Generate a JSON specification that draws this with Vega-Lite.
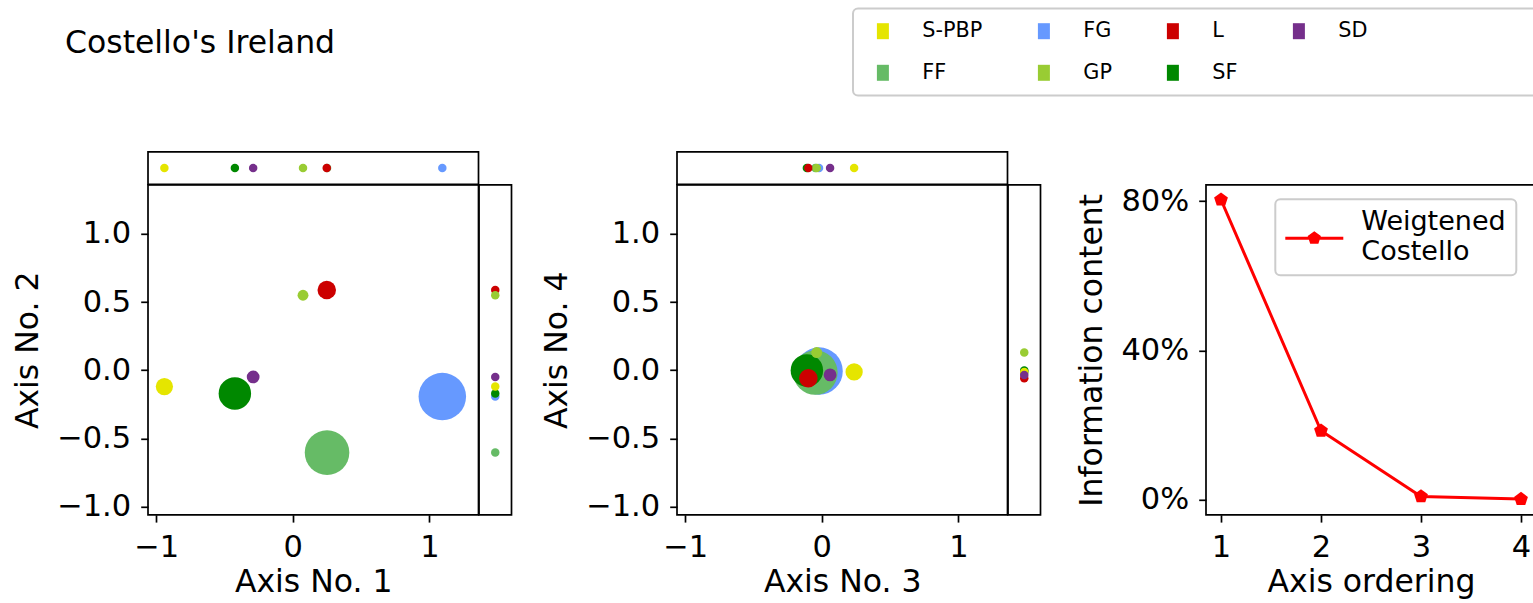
{
  "$schema": "https://vega.github.io/schema/vega-lite/v6.json",
  "padding": {"left": 11, "top": 5.8, "right": 0, "bottom": 0},
  "background": "white",
  "datasets": {
    "parties": [
      {"party": "FG", "dim1": 1.095, "dim2": -0.193, "dim3": -0.02, "dim4": -0.006, "weight": 50},
      {"party": "FF", "dim1": 0.251, "dim2": -0.604, "dim3": -0.047, "dim4": -0.017, "weight": 44},
      {"party": "SF", "dim1": -0.424, "dim2": -0.171, "dim3": -0.109, "dim4": -0.002, "weight": 23},
      {"party": "L", "dim1": 0.249, "dim2": 0.589, "dim3": -0.098, "dim4": -0.059, "weight": 7},
      {"party": "S-PBP", "dim1": -0.94, "dim2": -0.12, "dim3": 0.237, "dim4": -0.012, "weight": 6},
      {"party": "SD", "dim1": -0.29, "dim2": -0.049, "dim3": 0.061, "dim4": -0.034, "weight": 3},
      {"party": "GP", "dim1": 0.075, "dim2": 0.55, "dim3": -0.037, "dim4": 0.13, "weight": 2}
    ],
    "info": [
      {"ordering": 1, "info": 80.4, "series": "Weigtened Costello"},
      {"ordering": 2, "info": 18.5, "series": "Weigtened Costello"},
      {"ordering": 3, "info": 0.9, "series": "Weigtened Costello"},
      {"ordering": 4, "info": 0.2, "series": "Weigtened Costello"}
    ],
    "blank": [{"b": 0}]
  },
  "columns": 7,
  "spacing": 0,
  "bounds": "flush",
  "align": "each",
  "resolve": {"scale": {"color": "independent"}, "legend": {"color": "independent"}},
  "concat": [
    {
      "width": 330.5, "height": 32.6,
      "data": {"name": "parties"},
      "title": {"text": "Costello's Ireland", "anchor": "start", "frame": "group", "orient": "top", "offset": 66.8, "dx": -83, "baseline": "alphabetic", "fontSize": 31.5, "fontWeight": "normal", "font": "DejaVu Sans", "color": "black"},
      "mark": {"type": "circle", "opacity": 1, "size": 72},
      "encoding": {
        "x": {"field": "dim1", "type": "quantitative", "scale": {"domain": [-1.06, 1.36], "nice": false, "zero": false}, "axis": null},
        "color": {"field": "party", "type": "nominal", "scale": {"domain": ["S-PBP", "FG", "L", "SD", "FF", "GP", "SF"], "range": ["#e5e500", "#6699ff", "#cc0000", "#752f8b", "#66bb66", "#99cc33", "#008800"]}, "legend": null}
      }
    },
    {"width": 1, "height": 1, "data": {"name": "blank"}, "mark": {"type": "point", "opacity": 0}, "view": {"stroke": null}},
    {"width": 1, "height": 1, "data": {"name": "blank"}, "mark": {"type": "point", "opacity": 0}, "view": {"stroke": null}},
    {
      "width": 330.5, "height": 32.6,
      "data": {"name": "parties"},
      "mark": {"type": "circle", "opacity": 1, "size": 72},
      "encoding": {
        "x": {"field": "dim3", "type": "quantitative", "scale": {"domain": [-1.06, 1.36], "nice": false, "zero": false}, "axis": null},
        "color": {"field": "party", "type": "nominal", "scale": {"domain": ["S-PBP", "FG", "L", "SD", "FF", "GP", "SF"], "range": ["#e5e500", "#6699ff", "#cc0000", "#752f8b", "#66bb66", "#99cc33", "#008800"]},
          "legend": {"orient": "none", "legendX": 176, "legendY": -143.4, "title": null, "columns": 4, "direction": "horizontal",
            "symbolType": "M-0.75,-1H0.75V1H-0.75Z", "symbolSize": 256, "symbolStrokeWidth": 0, "symbolOpacity": 1,
            "labelFontSize": 20.8, "labelFont": "DejaVu Sans", "labelColor": "black", "labelOffset": 29, "symbolOffset": 7.5,
            "labelExpr": "datum.label == 'SD' ? 'SD                            \u200b' : datum.label", "labelLimit": 600,
            "columnPadding": 43, "rowPadding": 20, "padding": 12, "strokeColor": "#cccccc", "fillColor": "white", "cornerRadius": 5,
            "encode": {"legend": {"update": {"strokeWidth": {"value": 2}}}}}}
      }
    },
    {"width": 1, "height": 1, "data": {"name": "blank"}, "mark": {"type": "point", "opacity": 0}, "view": {"stroke": null}},
    {"width": 1, "height": 1, "data": {"name": "blank"}, "mark": {"type": "point", "opacity": 0}, "view": {"stroke": null}},
    {"width": 1, "height": 1, "data": {"name": "blank"}, "mark": {"type": "point", "opacity": 0}, "view": {"stroke": null}},
    {
      "width": 330.5, "height": 330,
      "data": {"name": "parties"},
      "mark": {"type": "circle", "opacity": 1},
      "encoding": {
        "x": {"field": "dim1", "type": "quantitative", "scale": {"domain": [-1.06, 1.36], "nice": false, "zero": false}, "axis": {"values": [-1, 0, 1], "format": "d", "title": "Axis No. 1"}},
        "y": {"field": "dim2", "type": "quantitative", "scale": {"domain": [-1.06, 1.36], "nice": false, "zero": false}, "axis": {"values": [-1, -0.5, 0, 0.5, 1], "format": ".1f", "title": "Axis No. 2"}},
        "size": {"field": "weight", "type": "quantitative", "scale": {"domain": [0, 50], "range": [30, 2256]}, "legend": null},
        "color": {"field": "party", "type": "nominal", "scale": {"domain": ["S-PBP", "FG", "L", "SD", "FF", "GP", "SF"], "range": ["#e5e500", "#6699ff", "#cc0000", "#752f8b", "#66bb66", "#99cc33", "#008800"]}, "legend": null}
      }
    },
    {
      "width": 32.5, "height": 330,
      "data": {"name": "parties"},
      "mark": {"type": "circle", "opacity": 1, "size": 72},
      "encoding": {
        "y": {"field": "dim2", "type": "quantitative", "scale": {"domain": [-1.06, 1.36], "nice": false, "zero": false}, "axis": null},
        "color": {"field": "party", "type": "nominal", "scale": {"domain": ["S-PBP", "FG", "L", "SD", "FF", "GP", "SF"], "range": ["#e5e500", "#6699ff", "#cc0000", "#752f8b", "#66bb66", "#99cc33", "#008800"]}, "legend": null}
      }
    },
    {"width": 165, "height": 1, "data": {"name": "blank"}, "mark": {"type": "point", "opacity": 0}, "view": {"stroke": null}},
    {
      "width": 330.5, "height": 330,
      "data": {"name": "parties"},
      "mark": {"type": "circle", "opacity": 1},
      "encoding": {
        "x": {"field": "dim3", "type": "quantitative", "scale": {"domain": [-1.06, 1.36], "nice": false, "zero": false}, "axis": {"values": [-1, 0, 1], "format": "d", "title": "Axis No. 3"}},
        "y": {"field": "dim4", "type": "quantitative", "scale": {"domain": [-1.06, 1.36], "nice": false, "zero": false}, "axis": {"values": [-1, -0.5, 0, 0.5, 1], "format": ".1f", "title": "Axis No. 4"}},
        "size": {"field": "weight", "type": "quantitative", "scale": {"domain": [0, 50], "range": [30, 2256]}, "legend": null},
        "color": {"field": "party", "type": "nominal", "scale": {"domain": ["S-PBP", "FG", "L", "SD", "FF", "GP", "SF"], "range": ["#e5e500", "#6699ff", "#cc0000", "#752f8b", "#66bb66", "#99cc33", "#008800"]}, "legend": null}
      }
    },
    {
      "width": 32.5, "height": 330,
      "data": {"name": "parties"},
      "mark": {"type": "circle", "opacity": 1, "size": 72},
      "encoding": {
        "y": {"field": "dim4", "type": "quantitative", "scale": {"domain": [-1.06, 1.36], "nice": false, "zero": false}, "axis": null},
        "color": {"field": "party", "type": "nominal", "scale": {"domain": ["S-PBP", "FG", "L", "SD", "FF", "GP", "SF"], "range": ["#e5e500", "#6699ff", "#cc0000", "#752f8b", "#66bb66", "#99cc33", "#008800"]}, "legend": null}
      }
    },
    {"width": 165, "height": 1, "data": {"name": "blank"}, "mark": {"type": "point", "opacity": 0}, "view": {"stroke": null}},
    {
      "width": 330, "height": 330,
      "data": {"name": "info"},
      "encoding": {
        "x": {"field": "ordering", "type": "quantitative", "scale": {"domain": [0.85, 4.15], "nice": false, "zero": false}, "axis": {"values": [1, 2, 3, 4], "format": "d", "title": "Axis ordering"}},
        "y": {"field": "info", "type": "quantitative", "scale": {"domain": [-4, 84.4], "nice": false, "zero": false}, "axis": {"values": [0, 40, 80], "labelExpr": "format(datum.value, 'd') + '%'", "title": "Information content"}}
      },
      "layer": [
        {"mark": {"type": "line", "color": "#ff0000", "strokeWidth": 3}},
        {"mark": {"type": "point", "filled": true, "opacity": 1, "size": 210, "shape": "M0,-1L0.951,-0.309L0.588,0.809L-0.588,0.809L-0.951,-0.309Z"},
         "encoding": {"color": {"field": "series", "type": "nominal", "scale": {"range": ["#ff0000"]},
           "legend": {"orient": "none", "legendX": 69.3, "legendY": 14.4, "title": null,
             "symbolType": "M-1,-0.052H1V0.052H-1Z M0,-0.24L0.228,-0.074L0.141,0.194L-0.141,0.194L-0.228,-0.074Z",
             "symbolSize": 3364, "symbolStrokeWidth": 0, "symbolOpacity": 1, "symbolFillColor": "#ff0000", "symbolOffset": 0,
             "labelExpr": "split(datum.label, ' ')", "labelFontSize": 27, "labelFont": "DejaVu Sans", "labelColor": "black", "labelLimit": 400,
             "labelOffset": 18, "padding": 10, "strokeColor": "#cccccc", "fillColor": "white", "cornerRadius": 5,
             "encode": {"legend": {"update": {"strokeWidth": {"value": 2}}}, "symbols": {"update": {"shape": {"value": "M-1,-0.052H1V0.052H-1Z M0,-0.24L0.228,-0.074L0.141,0.194L-0.141,0.194L-0.228,-0.074Z"}, "size": {"value": 3364}, "fill": {"value": "#ff0000"}, "strokeWidth": {"value": 0}}}, "labels": {"update": {"lineHeight": {"value": 30}, "dy": {"value": -16}}}}}}}}
      ]
    }
  ],
  "config": {
    "font": "DejaVu Sans",
    "view": {"stroke": "black", "strokeWidth": 1.7},
    "axis": {"domain": false, "grid": false, "tickColor": "black", "tickWidth": 1.7, "tickSize": 7.3,
      "labelFontSize": 30.5, "labelColor": "black", "labelPadding": 10, "labelFont": "DejaVu Sans", "labelOverlap": false, "labelFlush": false, "labelBound": false,
      "titleFontSize": 31.5, "titleFontWeight": "normal", "titleColor": "black", "titleFont": "DejaVu Sans"},
    "axisX": {"titlePadding": 4.4},
    "axisY": {"titlePadding": 12.3}
  }
}
